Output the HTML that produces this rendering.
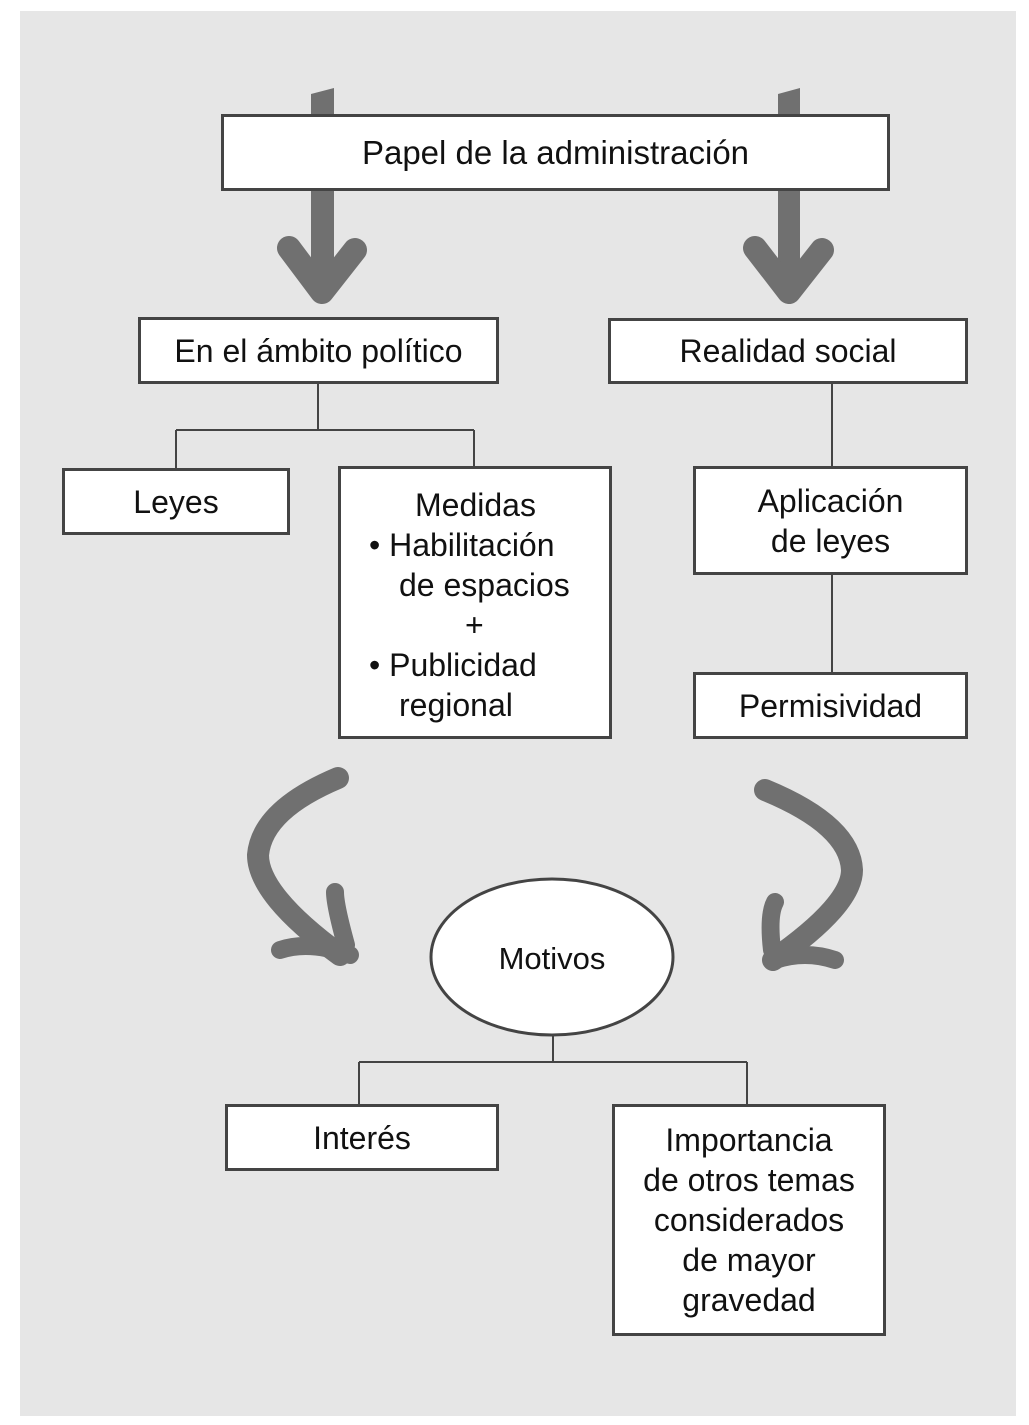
<!DOCTYPE html>
<html><head><meta charset="utf-8"><style>
body{margin:0;width:1029px;height:1425px;background:#fff;position:relative;overflow:hidden;font-family:"Liberation Sans","DejaVu Sans",sans-serif;}
.bg{position:absolute;left:20px;top:11px;width:996px;height:1405px;background:#e6e6e6;}
.b{position:absolute;box-sizing:border-box;border:3px solid #444;background:#fff;color:#111;font-size:32px;text-align:center;display:flex;align-items:center;justify-content:center;line-height:40px;}
svg{position:absolute;left:0;top:0;}
</style></head><body>
<div class="bg"></div>
<svg width="1029" height="1425">
<g fill="#707070" stroke="none">
<polygon points="311,94 334,88 334,275 311,275"/>
<polygon points="778,94 800,88 800,275 778,275"/>
</g>
<g fill="none" stroke="#707070" stroke-linecap="round" stroke-linejoin="round">
<path d="M289,248 L322,292 L355,250" stroke-width="24"/>
<path d="M755,248 L789,292 L822,250" stroke-width="24"/>
<path d="M338,778 Q262,810 258,855 Q258,895 340,955" stroke-width="22"/>
<path d="M346,945 Q335,905 335,892 M280,950 Q310,940 350,955" stroke-width="18"/>
<path d="M765,790 Q850,825 852,870 Q852,905 773,960" stroke-width="22"/>
<path d="M772,950 Q768,915 775,902 M775,960 Q805,950 835,960" stroke-width="18"/>
</g>
<g stroke="#444" stroke-width="2" fill="none">
<path d="M318,383V430M176,430H474M176,430V468M474,430V466"/>
<path d="M832,383V466M832,574V672"/>
<path d="M553,1035V1062M359,1062H747M359,1062V1104M747,1062V1104"/>
</g>
<ellipse cx="552" cy="957" rx="121" ry="78" fill="#fff" stroke="#444" stroke-width="3"/>
<text x="552" y="969" font-size="31" text-anchor="middle" fill="#111" font-family="Liberation Sans, sans-serif">Motivos</text>
</svg>
<div class="b" style="left:221px;top:114px;width:669px;height:77px;font-size:33px;">Papel de la administración</div>
<div class="b" style="left:138px;top:317px;width:361px;height:67px;">En el ámbito político</div>
<div class="b" style="left:608px;top:318px;width:360px;height:66px;">Realidad social</div>
<div class="b" style="left:62px;top:468px;width:228px;height:67px;">Leyes</div>
<div class="b" style="left:338px;top:466px;width:274px;height:273px;display:block;text-align:left;padding:16px 0 0 28px;">
<div style="padding-left:46px">Medidas</div>
<div>• Habilitación</div>
<div style="padding-left:30px">de espacios</div>
<div style="padding-left:96px">+</div>
<div>• Publicidad</div>
<div style="padding-left:30px">regional</div>
</div>
<div class="b" style="left:693px;top:466px;width:275px;height:109px;">Aplicación<br>de leyes</div>
<div class="b" style="left:693px;top:672px;width:275px;height:67px;">Permisividad</div>
<div class="b" style="left:225px;top:1104px;width:274px;height:67px;">Interés</div>
<div class="b" style="left:612px;top:1104px;width:274px;height:232px;">Importancia<br>de otros temas<br>considerados<br>de mayor<br>gravedad</div>
</body></html>
